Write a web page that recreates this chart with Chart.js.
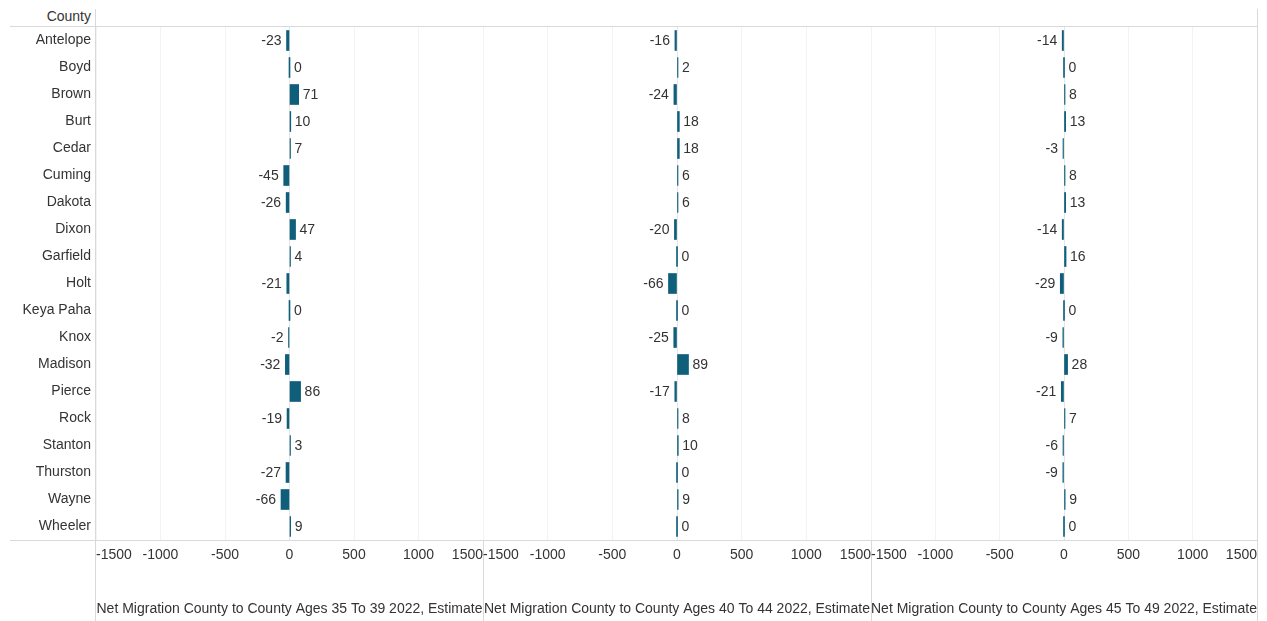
<!DOCTYPE html>
<html>
<head>
<meta charset="utf-8">
<script src="https://cdn.jsdelivr.net/npm/chart.js@4"></script>
<style>
  body{margin:0;background:#fff;font-family:"Liberation Sans",Arial,sans-serif}
  #wrap{position:relative;width:1267px;height:621px;overflow:hidden}
  .panel{position:absolute;top:0;height:621px}
  .ln{position:absolute;background:#d9d9d9}
  #hdr{position:absolute;right:1176px;top:8px;font-size:14px;color:#333}
</style>
</head>
<body>
<div id="wrap">
  <div id="hdr">County</div>
  <div class="ln" style="left:10px;top:26px;width:1248px;height:1px"></div>
  <div class="ln" style="left:10px;top:540px;width:1248px;height:1px"></div>
  <div class="ln" style="left:95px;top:9px;width:1px;height:612px"></div>
  <div class="ln" style="left:483px;top:26px;width:1px;height:595px"></div>
  <div class="ln" style="left:871px;top:26px;width:1px;height:595px"></div>
  <div class="ln" style="left:1257px;top:9px;width:1px;height:612px"></div>
  <div class="panel" style="left:0;width:483px"><canvas id="c1"></canvas></div>
  <div class="panel" style="left:483px;width:388px"><canvas id="c2"></canvas></div>
  <div class="panel" style="left:871px;width:386px"><canvas id="c3"></canvas></div>
</div>
<script>
const counties = ['Antelope','Boyd','Brown','Burt','Cedar','Cuming','Dakota','Dixon','Garfield','Holt',
  'Keya Paha','Knox','Madison','Pierce','Rock','Stanton','Thurston','Wayne','Wheeler']
const ages35to39 = [-23,0,71,10,7,-45,-26,47,4,-21,0,-2,-32,86,-19,3,-27,-66,9]
const ages40to44 = [-16,2,-24,18,18,6,6,-20,0,-66,0,-25,89,-17,8,10,0,9,0]
const ages45to49 = [-14,0,8,13,-3,8,13,-14,16,-29,0,-9,28,-21,7,-6,-9,9,0]
const xTicks = [-1500,-1000,-500,0,500,1000,1500]
const titles = [
  'Net Migration County to County Ages 35 To 39 2022, Estimate',
  'Net Migration County to County Ages 40 To 44 2022, Estimate',
  'Net Migration County to County Ages 45 To 49 2022, Estimate'
]

const TEXT = '#333333'
const FONT = 'Liberation Sans'

// value labels next to each bar end
const barLabels = {
  id:'barLabels',
  afterDatasetsDraw(chart){
    const ctx = chart.ctx
    const meta = chart.getDatasetMeta(0)
    const vals = chart.data.datasets[0].data
    ctx.save()
    ctx.font = '14px "' + FONT + '"'
    ctx.fillStyle = TEXT
    ctx.textBaseline = 'middle'
    meta.data.forEach((bar, i)=>{
      const v = vals[i]
      if(v < 0){ ctx.textAlign = 'right'; ctx.fillText(String(v), Math.min(bar.x, bar.base) - 5, bar.y + 1) }
      else { ctx.textAlign = 'left'; ctx.fillText(String(v), Math.max(bar.x, bar.base) + 4, bar.y + 1) }
    })
    ctx.restore()
  }
}

function makePanel(id, values, title, showNames){
  const ctx = document.getElementById(id).getContext('2d')
  return new Chart(ctx, {
    type:'bar',
    data:{
      labels: counties,
      datasets:[{data: values, backgroundColor:'#0f5f7b', borderWidth:0, barThickness:20, minBarLength:1}]
    },
    options:{
      indexAxis:'y',
      responsive:true,
      maintainAspectRatio:false,
      animation:false,
      layout:{padding:{top:27, left:0, right:0, bottom:0}},
      plugins:{legend:{display:false}, tooltip:{enabled:false}},
      scales:{
        x:{
          min:-1500, max:1500,
          afterBuildTicks(scale){ scale.ticks = xTicks.map(v=>({value:v})) },
          afterFit(scale){ scale.height = 81; scale.paddingLeft = 0; scale.paddingRight = 0 },
          grid:{color: c=> c.tick && c.tick.value===0 ? '#e6e6e6' : '#f3f3f3', drawTicks:false},
          border:{display:false},
          ticks:{align:'inner', padding:7, color:TEXT, font:{family:FONT, size:14}, maxRotation:0,
            callback: v=> String(v)},
          title:{display:true, text:title, color:TEXT, font:{family:FONT, size:14}, padding:{top:0, bottom:3}}
        },
        y:{
          display: showNames,
          afterFit(scale){ scale.width = showNames ? 96 : 0 },
          grid:{display:false, drawTicks:false},
          border:{display:false},
          ticks:{padding:5, color:TEXT, font:{family:FONT, size:14}}
        }
      }
    },
    plugins:[barLabels]
  })
}

makePanel('c1', ages35to39, titles[0], true)
makePanel('c2', ages40to44, titles[1], false)
makePanel('c3', ages45to49, titles[2], false)
</script>
</body>
</html>
